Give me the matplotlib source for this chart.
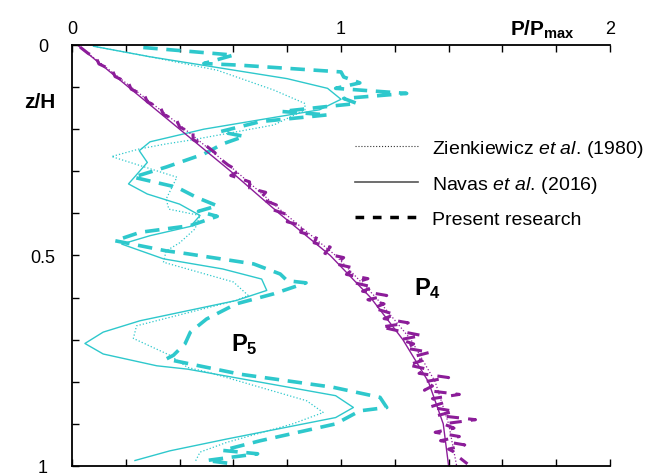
import matplotlib
matplotlib.use('Agg')
import matplotlib.pyplot as plt
from matplotlib.lines import Line2D

plt.rcParams['font.family'] = ['Liberation Sans', 'DejaVu Sans']
plt.rcParams['mathtext.fontset'] = 'custom'
plt.rcParams['mathtext.rm'] = 'Liberation Sans'
plt.rcParams['mathtext.it'] = 'Liberation Sans:italic'
plt.rcParams['mathtext.bf'] = 'Liberation Sans:bold'

cyan = '#2ec8cc'
purple = '#8c1d99'

# ---- P5 (cyan) ----
p5_navas_z = [0.003, 0.028, 0.08, 0.103, 0.129, 0.154, 0.20, 0.23, 0.251, 0.279, 0.33, 0.354,
              0.378, 0.405, 0.431, 0.453, 0.473, 0.508, 0.532, 0.556, 0.583, 0.607, 0.655,
              0.682, 0.709, 0.734, 0.762, 0.770, 0.833, 0.861, 0.885, 0.936, 0.964, 0.987]
p5_navas_x = [0.08, 0.29, 0.80, 0.95, 1.00, 0.92, 0.49, 0.29, 0.25, 0.28, 0.21, 0.28,
              0.40, 0.476, 0.44, 0.29, 0.185, 0.34, 0.56, 0.705, 0.724, 0.61, 0.253,
              0.116, 0.048, 0.116, 0.315, 0.43, 0.98, 1.046, 0.98, 0.575, 0.364, 0.234]

p5_zien_z = [0.003, 0.028, 0.06, 0.107, 0.139, 0.154, 0.19, 0.225, 0.235, 0.247, 0.265, 0.314,
             0.366, 0.39, 0.405, 0.437, 0.47, 0.489, 0.516, 0.563, 0.595, 0.607, 0.667,
             0.697, 0.737, 0.766, 0.778, 0.845, 0.873, 0.90, 0.944, 0.967, 0.991]
p5_zien_x = [0.08, 0.29, 0.54, 0.75, 0.866, 0.866, 0.75, 0.45, 0.35, 0.25, 0.147, 0.39,
             0.35, 0.36, 0.476, 0.457, 0.40, 0.35, 0.34, 0.60, 0.655, 0.61, 0.24,
             0.228, 0.364, 0.43, 0.51, 0.872, 0.934, 0.82, 0.575, 0.476, 0.457]

p5_pres_z = [0.006, 0.024, 0.044, 0.048, 0.064, 0.076, 0.09, 0.103, 0.115, 0.127, 0.139, 0.146,
             0.158, 0.166, 0.182, 0.206, 0.217, 0.235, 0.259, 0.29, 0.314, 0.338, 0.362,
             0.382, 0.395, 0.407, 0.429, 0.445, 0.465, 0.489, 0.496, 0.52, 0.544, 0.56,
             0.565, 0.591, 0.615, 0.651, 0.682, 0.71, 0.737, 0.746, 0.782, 0.813, 0.837,
             0.861, 0.869, 0.90, 0.94, 0.963, 0.971, 0.987, 0.995]
p5_pres_x = [0.265, 0.60, 0.49, 0.625, 1.00, 1.01, 1.07, 0.98, 1.244, 1.01, 1.06, 0.95,
             0.78, 0.95, 0.70, 0.55, 0.64, 0.56, 0.49, 0.35, 0.228, 0.39, 0.463,
             0.54, 0.47, 0.54, 0.44, 0.253, 0.16, 0.35, 0.43, 0.675, 0.774, 0.80,
             0.87, 0.75, 0.61, 0.50, 0.44, 0.42, 0.377, 0.35, 0.625, 0.97, 1.145,
             1.17, 1.07, 0.98, 0.70, 0.56, 0.69, 0.50, 0.60]

# ---- P4 (purple) ----
p4_z = [0.0, 0.1, 0.2, 0.3, 0.4, 0.5, 0.6, 0.7, 0.8, 0.9, 1.0]
p4_navas_x = [0.02, 0.21, 0.40, 0.59, 0.77, 0.96, 1.11, 1.23, 1.325, 1.38, 1.40]
p4_zien_x = [0.02, 0.22, 0.42, 0.61, 0.79, 0.98, 1.13, 1.26, 1.35, 1.40, 1.43]

p4_pres_z = [0.005, 0.02, 0.03, 0.045, 0.06, 0.075, 0.09, 0.105, 0.12, 0.135, 0.15, 0.165,
             0.18, 0.195, 0.21, 0.225, 0.24, 0.255, 0.27, 0.285, 0.30, 0.31, 0.325, 0.34,
             0.35, 0.365, 0.38, 0.39, 0.405, 0.42, 0.43, 0.445, 0.455, 0.47, 0.48, 0.495,
             0.505, 0.52, 0.53, 0.545, 0.555, 0.565, 0.575, 0.585, 0.595, 0.605, 0.615,
             0.625, 0.64, 0.65, 0.66, 0.67, 0.68, 0.69, 0.70, 0.71, 0.72, 0.73, 0.74,
             0.75, 0.76, 0.77, 0.78, 0.79, 0.80, 0.81, 0.82, 0.83, 0.84, 0.85, 0.86,
             0.87, 0.88, 0.89, 0.90, 0.91, 0.92, 0.93, 0.94, 0.95, 0.96, 0.97, 0.98, 0.995]
p4_pres_x = [0.03, 0.06, 0.09, 0.10, 0.15, 0.16, 0.21, 0.22, 0.27, 0.28, 0.33, 0.34,
             0.39, 0.40, 0.45, 0.45, 0.50, 0.53, 0.55, 0.58, 0.62, 0.59, 0.66, 0.66,
             0.72, 0.70, 0.76, 0.74, 0.81, 0.80, 0.86, 0.85, 0.91, 0.90, 0.96, 0.94,
             1.01, 0.98, 1.05, 1.02, 1.10, 1.05, 1.12, 1.08, 1.17, 1.10, 1.16,
             1.12, 1.20, 1.16, 1.25, 1.15, 1.22, 1.30, 1.22, 1.27, 1.24, 1.33, 1.27,
             1.30, 1.25, 1.32, 1.29, 1.40, 1.31, 1.34, 1.31, 1.44, 1.34, 1.38, 1.33,
             1.42, 1.36, 1.50, 1.38, 1.42, 1.35, 1.44, 1.37, 1.46, 1.40, 1.43, 1.44, 1.47]

fig = plt.figure(figsize=(6.63, 4.77), dpi=100)
ax = fig.add_axes([0.1086, 0.021, 0.8115, 0.8826])

dash = (4, 2.4)
ax.plot(p5_zien_x, p5_zien_z, color=cyan, lw=0.9, ls=':')
ax.plot(p5_navas_x, p5_navas_z, color=cyan, lw=1.0)
ax.plot(p5_pres_x, p5_pres_z, color=cyan, lw=2.6, dashes=dash)

ax.plot(p4_zien_x, p4_z, color=purple, lw=0.9, ls=':')
ax.plot(p4_navas_x, p4_z, color=purple, lw=1.0)
ax.plot(p4_pres_x, p4_pres_z, color=purple, lw=2.2, dashes=(4, 3))

ax.set_xlim(0, 2)
ax.set_ylim(1, 0)
ax.spines['right'].set_visible(False)
for s in ['left', 'top', 'bottom']:
    ax.spines[s].set_linewidth(1.3)

ax.set_xticks([0, 1, 2])
ax.set_xticks([0.2, 0.4, 0.6, 0.8, 1.2, 1.4, 1.6, 1.8], minor=True)
ax.set_xticklabels(['0', '1', '2'])
ax.set_yticks([0, 0.5, 1])
ax.set_yticks([0.1, 0.2, 0.3, 0.4, 0.6, 0.7, 0.8, 0.9], minor=True)
ax.set_yticklabels(['0', '0.5', '1'])
for lab in ax.get_yticklabels():
    lab.set_horizontalalignment('center')

ax.tick_params(axis='x', which='both', direction='in', top=True, bottom=True,
               labeltop=True, labelbottom=False, length=5, width=1, pad=6, labelsize=13)
ax.tick_params(axis='y', which='both', direction='in', left=True, right=False,
               length=5, width=1, pad=21, labelsize=13)

fig.text(542 / 663, 1 - 30 / 477, r'$\mathbf{P/P_{max}}$', fontsize=15,
         ha='center', va='center')
fig.text(40 / 663, 1 - 103 / 477, 'z/H', fontsize=15, fontweight='bold',
         ha='center', va='center')

ax.text(1.32, 0.575, r'$\mathbf{P_4}$', fontsize=17, ha='center', va='center')
ax.text(0.64, 0.71, r'$\mathbf{P_5}$', fontsize=17, ha='center', va='center')

handles = [
    Line2D([], [], color='#333333', lw=0.8, ls=':'),
    Line2D([], [], color='#555555', lw=1.2),
    Line2D([], [], color='black', lw=2.5, dashes=(2.5, 2.5)),
]
labels = [r'Zienkiewicz $\mathit{et\ al.}\,$(1980)',
          r'Navas $\mathit{et\ al.}\,$(2016)',
          'Present research']
fig.legend(handles, labels, loc='upper left', bbox_to_anchor=(355 / 663, 1 - 139 / 477),
           frameon=False, fontsize=14, handlelength=3.25, handletextpad=0.72,
           labelspacing=0.78, borderpad=0, borderaxespad=0)

fig.savefig('out.png', dpi=100)
